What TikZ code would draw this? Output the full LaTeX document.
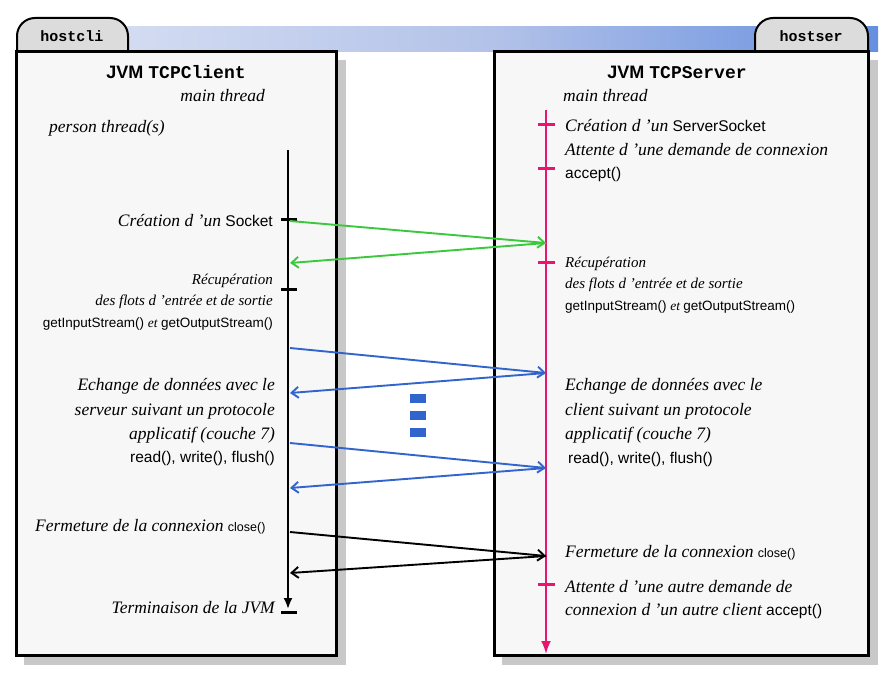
\documentclass[tikz,border=0pt]{standalone}
\usepackage{fontspec}
\setmainfont{Liberation Serif}
\setsansfont{Liberation Sans}
\setmonofont{Liberation Mono}
\usetikzlibrary{arrows.meta}
\definecolor{boxfill}{RGB}{247,247,247}
\definecolor{tabfill}{RGB}{220,220,220}
\definecolor{shadowc}{RGB}{200,200,200}
\definecolor{pinkc}{RGB}{232,22,110}
\definecolor{greenc}{RGB}{60,200,60}
\definecolor{bluec}{RGB}{50,100,205}
\pgfdeclarehorizontalshading{banner}{100bp}{rgb(0bp)=(0.96,0.97,0.99); rgb(50bp)=(0.70,0.76,0.91); rgb(100bp)=(0.10,0.36,0.85)}
\newcommand{\sm}[1]{{\sffamily\upshape #1}}
\begin{document}
\begin{tikzpicture}[x=1pt,y=-1pt,
  it/.style={inner sep=0pt,font=\fontsize{17.5}{22}\selectfont\itshape},
  smit/.style={inner sep=0pt,font=\fontsize{15}{19}\selectfont\itshape},
  sml/.style={inner sep=0pt,font=\fontsize{13.5}{17}\selectfont},
  ttl/.style={inner sep=0pt,font=\fontsize{18}{22}\selectfont},
  tabtxt/.style={inner sep=0pt,font=\fontsize{15}{18}\selectfont\ttfamily\bfseries},
  tabshape/.style={draw=black,line width=2pt,fill=tabfill,rounded corners=18pt},
  boxshape/.style={draw=black,line width=3pt,fill=boxfill},
  msg/.style={line width=1.9pt,-{Straight Barb[length=7pt,width=11pt,line width=1.9pt]}},
  tick/.style={line width=3pt},
  dotsq/.style={fill=bluec}
]
\useasboundingbox (0,0) rectangle (890,674);
% banner
\shade[shading=banner] (110,27) rectangle (878,52);
% shadows
\fill[shadowc] (24,60) rectangle (346,665);
\fill[shadowc] (502,60) rectangle (878,665);
% tabs
\draw[tabshape] (17,54) -- (17,18) -- (128,18) -- (128,54);
\draw[tabshape] (755,54) -- (755,18) -- (868,18) -- (868,54);
\node[tabtxt] (hostcli) at (72,36) {hostcli};
\node[tabtxt] (hostser) at (811,36) {hostser};
% boxes
\draw[boxshape] (16,52) rectangle (336,655);
\draw[boxshape] (494,52) rectangle (868,655);

% ---- client side texts
\node[ttl,anchor=base] (jvmc) at (176,79) {\sffamily\bfseries JVM \ttfamily TCPClient};
\node[it,anchor=base east] (mainc) at (265,102) {main thread};
\node[it,anchor=base west] (pers) at (49,132) {person thread(s)};
\node[it,anchor=base east] (sockc) at (273,226) {Création d 'un \fontsize{15.5}{18}\selectfont\sm{Socket}};
\node[smit,anchor=base east] (recc1) at (273,284) {Récupération};
\node[smit,anchor=base east] (recc2) at (273,305) {des flots d 'entrée et de sortie};
\node[sml,anchor=base east] (recc3) at (273,327) {\sffamily getInputStream() \rmfamily\itshape et \sffamily\upshape getOutputStream()};
\node[it,anchor=base east] (echc1) at (275,390) {Echange de données avec le};
\node[it,anchor=base east] (echc2) at (275,415) {serveur suivant un protocole};
\node[it,anchor=base east] (echc3) at (275,439) {applicatif (couche 7)};
\node[sml,anchor=base east,font=\fontsize{15.5}{18}\selectfont\sffamily] (echc4) at (275,462) {read(), write(), flush()};
\node[it,anchor=base west] (ferc) at (35,531) {Fermeture de la connexion \fontsize{12.5}{15}\selectfont\sm{close()}};
\node[it,anchor=base east] (term) at (275,613) {Terminaison de la JVM};

% ---- server side texts
\node[ttl,anchor=base] (jvms) at (677,79) {\sffamily\bfseries JVM \ttfamily TCPServer};
\node[it,anchor=base west] (mains) at (563,102) {main thread};
\node[it,anchor=base west] (ssock) at (565,131) {Création d 'un \fontsize{15.5}{18}\selectfont\sm{ServerSocket}};
\node[it,anchor=base west] (att1) at (565,155) {Attente d 'une demande de connexion};
\node[sml,anchor=base west,font=\fontsize{15.5}{18}\selectfont\sffamily] (acc1) at (565,178) {accept()};
\node[smit,anchor=base west] (recs1) at (565,267) {Récupération};
\node[smit,anchor=base west] (recs2) at (565,288) {des flots d 'entrée et de sortie};
\node[sml,anchor=base west] (recs3) at (565,310) {\sffamily getInputStream() \rmfamily\itshape et \sffamily\upshape getOutputStream()};
\node[it,anchor=base west] (echs1) at (565,390) {Echange de données avec le};
\node[it,anchor=base west] (echs2) at (565,415) {client suivant un protocole};
\node[it,anchor=base west] (echs3) at (565,439) {applicatif (couche 7)};
\node[sml,anchor=base west,font=\fontsize{15.5}{18}\selectfont\sffamily] (echs4) at (568,463) {read(), write(), flush()};
\node[it,anchor=base west] (fers) at (565,557) {Fermeture de la connexion \fontsize{12.5}{15}\selectfont\sm{close()}};
\node[it,anchor=base west] (att2) at (565,592) {Attente d 'une autre demande de};
\node[it,anchor=base west] (att3) at (565,615) {connexion d 'un autre client \fontsize{15.5}{18}\selectfont\sm{accept()}};

% ---- timelines
\coordinate (ctop) at (288,150);
\coordinate (cbot) at (288,609);
\coordinate (stop) at (546,110);
\coordinate (sbot) at (546,654);
\draw[line width=2pt,-{Latex[length=11pt,width=9pt]}] (ctop) -- (cbot);
\draw[line width=3pt] (281,612) -- (297,612);
\draw[tick] (281,219) -- (297,219);
\draw[tick] (281,289) -- (297,289);
\draw[pinkc,line width=2pt,-{Latex[length=13pt,width=10pt]}] (stop) -- (sbot);
\foreach \yy in {124,168,262,584} \draw[pinkc,tick] (538,\yy) -- (555,\yy);

% ---- message endpoints
\coordinate (g1a) at (290,221); \coordinate (g1b) at (546,243); \coordinate (g2b) at (290,263);
\coordinate (b1a) at (290,348); \coordinate (b1b) at (546,373); \coordinate (b2b) at (290,393);
\coordinate (b3a) at (290,443); \coordinate (b3b) at (546,468); \coordinate (b4b) at (290,488);
\coordinate (k1a) at (290,532); \coordinate (k1b) at (546,556); \coordinate (k2b) at (290,573);
\draw[msg,greenc] (g1a) -- (g1b);
\draw[msg,greenc] (g1b) -- (g2b);
\draw[msg,bluec] (b1a) -- (b1b);
\draw[msg,bluec] (b1b) -- (b2b);
\draw[msg,bluec] (b3a) -- (b3b);
\draw[msg,bluec] (b3b) -- (b4b);
\draw[msg,black] (k1a) -- (k1b);
\draw[msg,black] (k1b) -- (k2b);
% dots
\fill[dotsq] (410,394) rectangle (426,403);
\fill[dotsq] (410,411) rectangle (426,420);
\fill[dotsq] (410,428) rectangle (426,437);
\end{tikzpicture}
\end{document}
